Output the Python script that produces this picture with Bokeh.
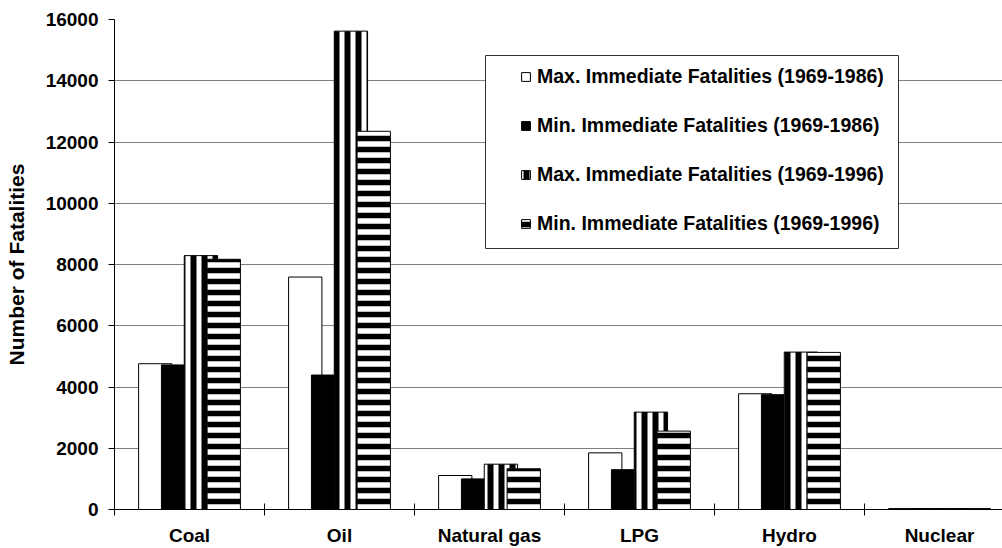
from bokeh.plotting import figure
from bokeh.models import (Range1d, FixedTicker, Legend, LegendItem, BoxAnnotation,
                          ColumnDataSource)
from bokeh.transform import dodge
from bokeh.embed import file_html
from bokeh.resources import INLINE

# ---- data -------------------------------------------------------------
categories = ["Coal", "Oil", "Natural gas", "LPG", "Hydro", "Nuclear"]
max_1969_1986 = [4760, 7590, 1110, 1850, 3780, 31]
min_1969_1986 = [4720, 4390, 1000, 1300, 3750, 31]
max_1969_1996 = [8290, 15620, 1480, 3180, 5140, 31]
min_1969_1996 = [8170, 12350, 1330, 2560, 5130, 31]
series_labels = [
    "Max. Immediate Fatalities (1969-1986)",
    "Min. Immediate Fatalities (1969-1986)",
    "Max. Immediate Fatalities (1969-1996)",
    "Min. Immediate Fatalities (1969-1996)",
]
y_ticks = [0, 2000, 4000, 6000, 8000, 10000, 12000, 14000, 16000]
y_label = "Number of Fatalities"

FONT = "Liberation Sans"

centers = [i + 0.5 for i in range(len(categories))]
src = ColumnDataSource(dict(x=centers, a=max_1969_1986, b=min_1969_1986,
                            c=max_1969_1996, d=min_1969_1996))

p = figure(width=1002, height=548, output_backend="svg", toolbar_location=None,
           x_range=Range1d(0, 888 / 150), y_range=Range1d(0, 16000),
           min_border_left=114, min_border_right=0, min_border_top=19,
           min_border_bottom=39)
p.outline_line_color = None
p.background_fill_color = "white"
p.border_fill_color = "white"

BW = 0.222
OFF = [-0.2283, -0.0761, 0.0761, 0.2283]

r1 = p.vbar(x=dodge("x", OFF[0]), top="a", width=BW, source=src,
            fill_color="white", line_color="black", line_width=1)
r2 = p.vbar(x=dodge("x", OFF[1]), top="b", width=BW, source=src,
            fill_color="black", line_color="black", line_width=1)
r3 = p.vbar(x=dodge("x", OFF[2]), top="c", width=BW, source=src,
            fill_color="white", line_color="black", line_width=1,
            hatch_pattern="vertical_line", hatch_color="black",
            hatch_scale=11, hatch_weight=6)
r4 = p.vbar(x=dodge("x", OFF[3]), top="d", width=BW, source=src,
            fill_color="white", line_color="black", line_width=1,
            hatch_pattern="horizontal_line", hatch_color="black",
            hatch_scale=11, hatch_weight=5.5)

# grid
p.xgrid.grid_line_color = None
p.ygrid.ticker = FixedTicker(ticks=y_ticks)
p.ygrid.grid_line_color = "#808080"
p.ygrid.grid_line_width = 1

# y axis
ya = p.yaxis[0]
ya.ticker = FixedTicker(ticks=y_ticks)
ya.axis_label = y_label
ya.axis_label_text_font = FONT
ya.axis_label_text_font_style = "bold"
ya.axis_label_text_font_size = "21px"
ya.axis_label_text_color = "black"
ya.axis_label_standoff = 15
ya.major_label_text_font = FONT
ya.major_label_text_font_style = "bold"
ya.major_label_text_font_size = "19px"
ya.major_label_text_color = "black"
ya.major_label_standoff = 10
ya.major_tick_in = 0
ya.major_tick_out = 6
ya.minor_tick_line_color = None
ya.axis_line_color = "black"
ya.major_tick_line_color = "black"

# x axis
xa = p.xaxis[0]
xa.ticker = FixedTicker(ticks=centers, minor_ticks=list(range(len(categories) + 1)))
xa.major_label_overrides = {c: name for c, name in zip(centers, categories)}
xa.major_label_text_font = FONT
xa.major_label_text_font_style = "bold"
xa.major_label_text_font_size = "19px"
xa.major_label_text_color = "black"
xa.major_label_standoff = 9
xa.major_tick_in = 0
xa.major_tick_out = 0
xa.minor_tick_in = 6
xa.minor_tick_out = 6
xa.minor_tick_line_color = "black"
xa.axis_line_color = "black"

# legend frame
box = BoxAnnotation(left=371, right=784, top=454, bottom=261,
                    left_units="screen", right_units="screen",
                    top_units="screen", bottom_units="screen",
                    fill_color="white", fill_alpha=1.0,
                    line_color="#333333", line_width=1, line_alpha=1.0)
p.add_layout(box)

legend = Legend(items=[LegendItem(label=lab, renderers=[r])
                       for lab, r in zip(series_labels, [r1, r2, r3, r4])],
                location=(406, 274), orientation="vertical",
                glyph_width=11, glyph_height=11, label_standoff=6,
                spacing=26, padding=0, margin=0,
                border_line_alpha=0, background_fill_alpha=0,
                label_text_font=FONT, label_text_font_style="bold",
                label_text_font_size="19.5px", label_text_color="black")
p.add_layout(legend)

open("out.html", "w").write(file_html(p, INLINE))
